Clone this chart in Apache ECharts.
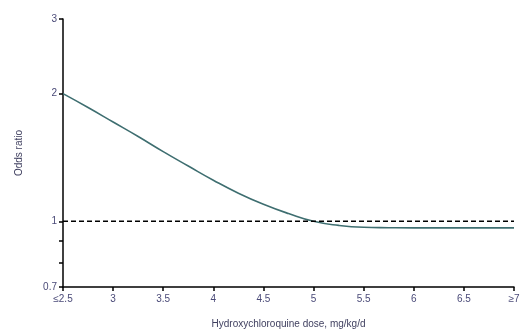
<!DOCTYPE html>
<html>
<head>
<meta charset="utf-8">
<script src="https://cdn.jsdelivr.net/npm/echarts@6/dist/echarts.min.js"></script>
<style>
  html, body { margin: 0; padding: 0; background: #fff; }
  #chart { width: 520px; height: 329px; }
</style>
</head>
<body>
<div id="chart"></div>
<script>
// dose (mg/kg/d) and fitted odds ratio
var doses = [2.5, 2.75, 3.0, 3.25, 3.5, 3.75, 4.0, 4.25, 4.5, 4.75, 5.0, 5.25, 5.5, 5.75, 6.0, 6.5, 7.0];
var oddsRatio = [2.00, 1.855, 1.715, 1.585, 1.46, 1.35, 1.25, 1.165, 1.097, 1.043, 1.0, 0.978, 0.968, 0.966, 0.965, 0.965, 0.965];
var refLine = [1, 1];
var yLabelValues = [0.7, 1, 2, 3];
var yTickValues = [0.7, 0.8, 0.9, 1, 2, 3];

var font = "'Liberation Sans Narrow', 'Liberation Sans', sans-serif";
var labelColor = '#4a4a78';

var myChart = echarts.init(document.getElementById('chart'));
myChart.setOption({
    animation: false,
    grid: { left: 63, right: 6, top: 19, bottom: 42, outerBoundsMode: 'none' },
    xAxis: {
        type: 'value',
        min: 2.5,
        max: 7,
        interval: 0.5,
        name: 'Hydroxychloroquine dose, mg/kg/d',
        nameLocation: 'middle',
        nameGap: 32,
        nameTextStyle: { fontFamily: font, fontSize: 10, color: '#3f3f5f' },
        splitLine: { show: false },
        axisLine: { onZero: false, lineStyle: { color: '#000', width: 1.5 } },
        axisTick: { length: 4, lineStyle: { color: '#000', width: 1.5 } },
        axisLabel: {
            fontFamily: font, fontSize: 10, color: labelColor, margin: 7,
            formatter: function (v) {
                if (v === 2.5) return '\u22642.5';
                if (v === 7) return '\u22657';
                return String(v);
            }
        }
    },
    yAxis: {
        type: 'log',
        logBase: 10,
        min: 0.7,
        max: 3,
        name: 'Odds ratio',
        nameLocation: 'middle',
        nameGap: 39,
        nameTextStyle: { fontFamily: font, fontSize: 10, color: '#3f3f5f' },
        splitLine: { show: false },
        axisLine: { show: true, lineStyle: { color: '#000', width: 1.5 } },
        axisTick: { show: true, length: 4, customValues: yTickValues, lineStyle: { color: '#000', width: 1.5 } },
        axisLabel: { fontFamily: font, fontSize: 10, color: labelColor, margin: 6, customValues: yLabelValues }
    },
    series: [
        {
            type: 'line',
            data: doses.map(function (d, i) { return [d, oddsRatio[i]]; }),
            smooth: true,
            showSymbol: false,
            lineStyle: { color: '#3e6e70', width: 1.6 }
        },
        {
            type: 'line',
            data: [[2.5, refLine[0]], [7, refLine[1]]],
            showSymbol: false,
            lineStyle: { color: '#000', width: 1.5, type: [5, 3] }
        }
    ]
});
</script>
</body>
</html>
